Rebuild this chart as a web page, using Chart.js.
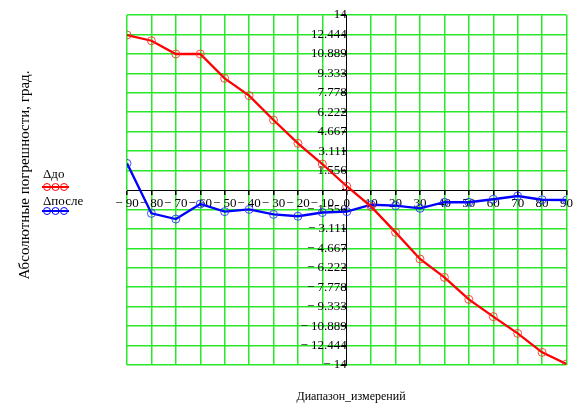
<!DOCTYPE html>
<html>
<head>
<meta charset="utf-8">
<script src="https://cdn.jsdelivr.net/npm/chart.js@4"></script>
<style>
  html, body { margin: 0; padding: 0; background: #fff; }
</style>
</head>
<body>
<canvas id="chart" width="575" height="406"></canvas>
<script>
// диапазон измерений, град.
const xValues = [-90, -80, -70, -60, -50, -40, -30, -20, -10, 0, 10, 20, 30, 40, 50, 60, 70, 80, 90];
// погрешности до и после
const deltaDo = [12.4, 11.94, 10.88, 10.88, 8.93, 7.55, 5.6, 3.73, 2.08, 0.3, -1.33, -3.39, -5.52, -6.99, -8.75, -10.13, -11.47, -12.99, -13.92];
const deltaPosle = [2.13, -1.87, -2.32, -1.12, -1.73, -1.55, -1.95, -2.1, -1.8, -1.73, -1.18, -1.25, -1.47, -0.98, -0.98, -0.74, -0.48, -0.78, -0.8];
// метки оси Y
const yTicks = [14, 12.444, 10.889, 9.333, 7.778, 6.222, 4.667, 3.111, 1.556, 0,
  -1.556, -3.111, -4.667, -6.222, -7.778, -9.333, -10.889, -12.444, -14];

const FONT = "'Liberation Serif', 'Times New Roman', serif";
const GRID = 'rgb(40,232,40)';

function mcLabel(v) {
    if (v === 0) return '';
    return v < 0 ? '\u2212 ' + Math.abs(v) : String(v);
}

// подписи осей и легенда
const decor = {
    id: 'decor',
    afterDraw(chart) {
        const c = chart.ctx;
        c.save();
        c.fillStyle = '#000';
        c.font = '15px ' + FONT;
        c.textAlign = 'center';
        c.textBaseline = 'middle';
        c.save();
        c.translate(25, 175);
        c.rotate(-Math.PI / 2);
        c.fillText('Абсолютные погрешности, град.', 0, 0);
        c.restore();

        c.font = '12px ' + FONT;
        c.fillText('Диапазон_измерений', 351, 397);

        // легенда
        const items = [
            { text: 'Δдо', color: '#ff0000', ty: 175, ly: 187 },
            { text: 'Δпосле', color: '#0000ff', ty: 202, ly: 211 }
        ];
        c.textAlign = 'left';
        c.font = '13px ' + FONT;
        items.forEach(it => {
            c.fillStyle = '#000';
            c.fillText(it.text, 43, it.ty);
            c.strokeStyle = it.color;
            c.lineWidth = 2;
            c.beginPath();
            c.moveTo(42, it.ly);
            c.lineTo(69, it.ly);
            c.stroke();
            c.lineWidth = 1;
            [47, 55.5, 64].forEach(px => {
                c.beginPath();
                c.arc(px, it.ly, 3.5, 0, Math.PI * 2);
                c.stroke();
            });
        });
        c.restore();
    }
};

const ctx = document.getElementById('chart').getContext('2d');
new Chart(ctx, {
    type: 'line',
    data: {
        datasets: [{
            label: 'Δдо',
            data: xValues.map((x, i) => ({ x: x, y: deltaDo[i] })),
            borderColor: '#ff0000',
            borderWidth: 2.3,
            pointRadius: 4,
            pointBorderWidth: 1,
            pointBorderColor: 'rgba(255,40,40,0.85)',
            pointBackgroundColor: 'rgba(0,0,0,0)',
            tension: 0
        }, {
            label: 'Δпосле',
            data: xValues.map((x, i) => ({ x: x, y: deltaPosle[i] })),
            borderColor: '#0000ff',
            borderWidth: 2.3,
            pointRadius: 4,
            pointBorderWidth: 1,
            pointBorderColor: 'rgba(40,40,255,0.85)',
            pointBackgroundColor: 'rgba(0,0,0,0)',
            tension: 0
        }]
    },
    options: {
        responsive: false,
        animation: false,
        layout: { padding: { left: 127, top: 15, right: 7, bottom: 41 } },
        plugins: { legend: { display: false }, tooltip: { enabled: false } },
        scales: {
            x: {
                type: 'linear',
                min: -90, max: 90,
                position: { y: 0 },
                grid: {
                    color: ctx => ctx.tick && ctx.tick.value === 0 ? 'rgba(0,0,0,0)' : GRID,
                    lineWidth: 1.5,
                    tickColor: '#000',
                    tickLength: 4
                },
                border: { color: '#000', width: 1 },
                ticks: {
                    stepSize: 10,
                    autoSkip: false,
                    maxRotation: 0,
                    padding: 2,
                    color: '#000',
                    font: { family: FONT, size: 13 },
                    callback: v => (v === 0 ? '0' : mcLabel(v))
                }
            },
            y: {
                type: 'linear',
                min: -14, max: 14,
                position: { x: 0 },
                afterBuildTicks: s => { s.ticks = yTicks.map(v => ({ value: v })); },
                grid: {
                    color: ctx => ctx.tick && ctx.tick.value === 0 ? 'rgba(0,0,0,0)' : GRID,
                    lineWidth: 1.5,
                    tickColor: '#000',
                    tickLength: 4
                },
                border: { color: '#000', width: 1 },
                ticks: {
                    autoSkip: false,
                    padding: 1,
                    color: '#000',
                    font: { family: FONT, size: 13 },
                    callback: v => mcLabel(v)
                }
            }
        }
    },
    plugins: [decor]
});
</script>
</body>
</html>
